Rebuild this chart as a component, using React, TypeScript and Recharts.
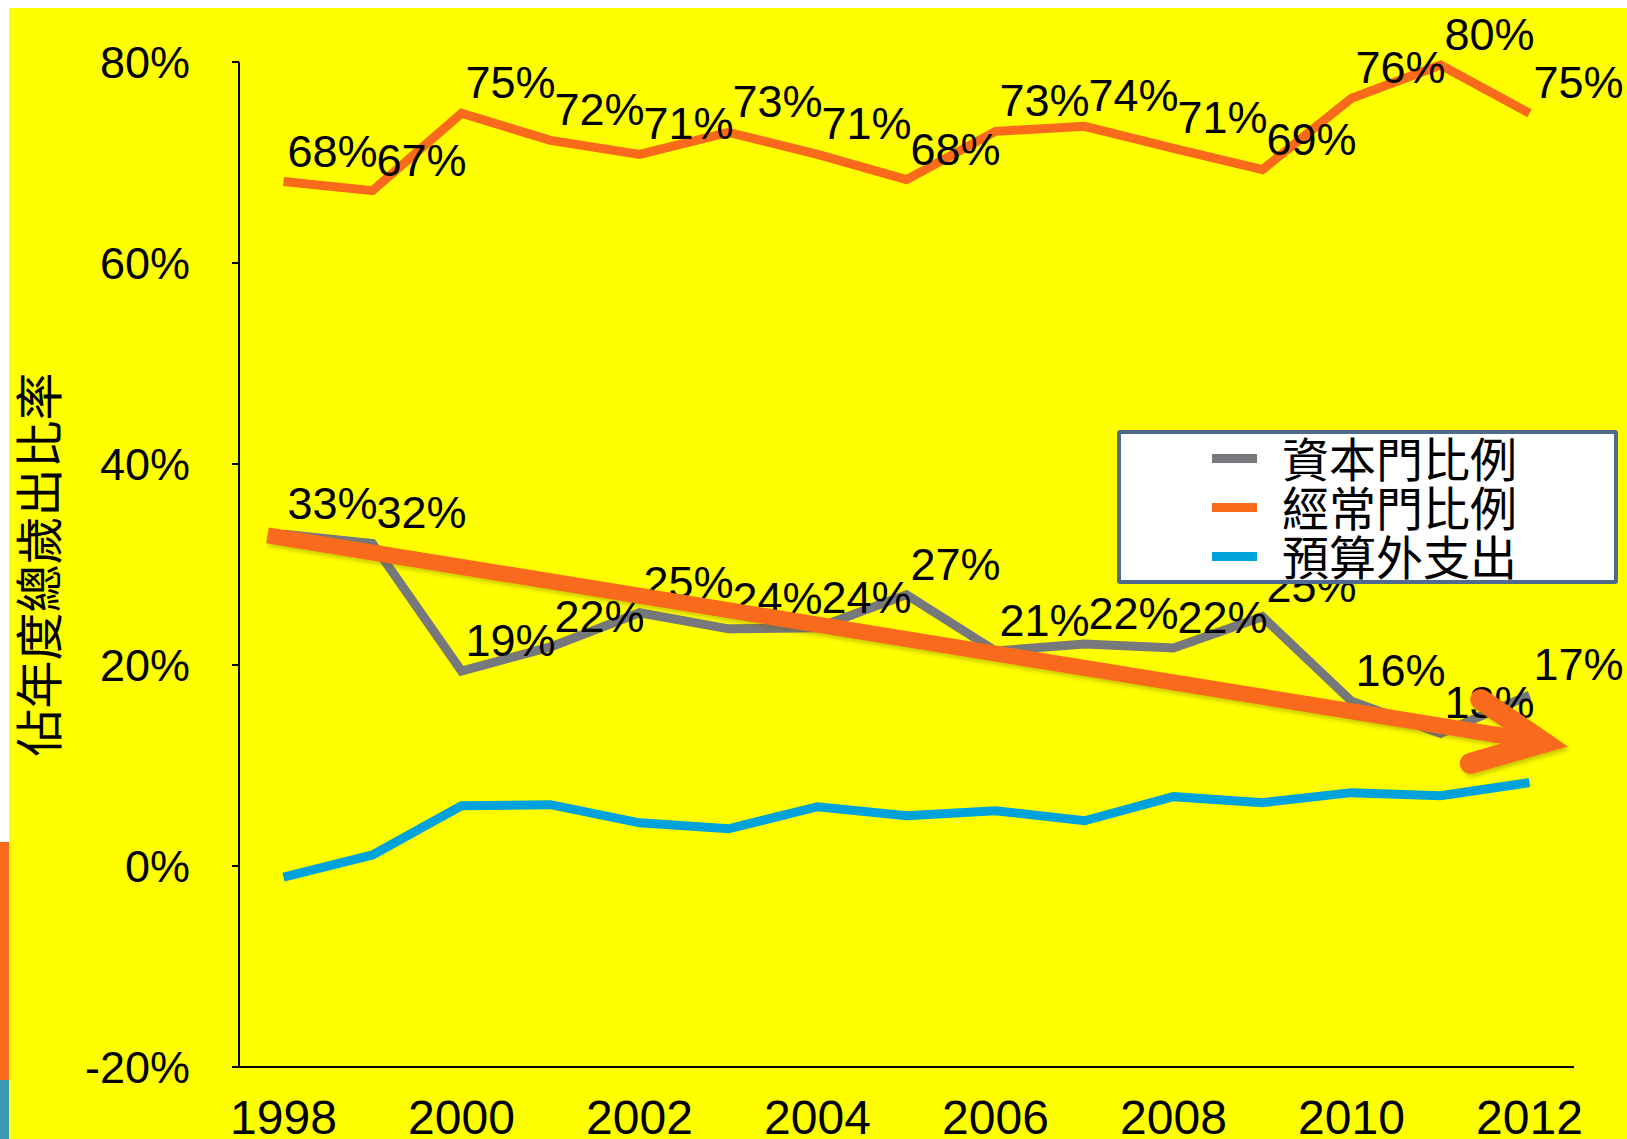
import { LineChart, Line, XAxis, YAxis, LabelList, Legend, ReferenceLine } from 'recharts'

const years = [1998, 1999, 2000, 2001, 2002, 2003, 2004, 2005, 2006, 2007, 2008, 2009, 2010, 2011, 2012]
const capitalShare = [33.0, 32.1, 19.4, 21.8, 25.2, 23.6, 23.7, 27.0, 21.4, 22.1, 21.7, 24.8, 16.4, 13.2, 17.0]
const currentShare = [68.1, 67.2, 74.9, 72.2, 70.8, 73.0, 70.8, 68.3, 73.1, 73.6, 71.4, 69.3, 76.4, 79.7, 74.9]
const offBudget = [-1.1, 1.1, 6.0, 6.1, 4.3, 3.7, 5.9, 5.0, 5.5, 4.5, 6.9, 6.3, 7.3, 7.0, 8.3]

const xTicks = [1998, 2000, 2002, 2004, 2006, 2008, 2010, 2012]
const yTicks = [-20, 0, 20, 40, 60, 80]
const seriesNames = ['資本門比例', '經常門比例', '預算外支出']
const seriesColors = ['#77787b', '#f96a1b', '#00a2db']
const yTitle = '佔年度總歲出比率'

// hand-drawn trend arrow, in data units (year, %)
const trendFrom = { x: 1997.82, y: 32.9 }
const trendTo = { x: 2012.43, y: 11.9 }

const chartData = years.map((year, i) => ({
  year,
  capital: capitalShare[i],
  current: currentShare[i],
  offBudget: offBudget[i],
}))

const latin = '"Liberation Sans", Arial, sans-serif'
const cjk = '"Noto Sans CJK TC", "Noto Sans CJK SC", sans-serif'

function PctLabel(props: any) {
  const { x, y, value } = props
  if (x == null || y == null) return null
  return (
    <text x={x + 4} y={y - 15} fontSize={45} fontFamily={latin} fill="#000" textAnchor="start">
      {Math.round(value)}%
    </text>
  )
}

function TrendArrow(props: any) {
  const { x1, y1, x2, y2 } = props
  const ang = Math.atan2(y2 - y1, x2 - x1)
  const spread = 0.44
  const headW = 21
  const back = headW / 2 / Math.sin(spread)
  const vx = x2 - back * Math.cos(ang)
  const vy = y2 - back * Math.sin(ang)
  const armLen = 76
  const a1 = ang + Math.PI + spread
  const a2 = ang + Math.PI - spread
  const p1 = `${vx + armLen * Math.cos(a1)},${vy + armLen * Math.sin(a1)}`
  const p2 = `${vx + armLen * Math.cos(a2)},${vy + armLen * Math.sin(a2)}`
  return (
    <g filter="url(#arrowShadow)">
      <defs>
        <filter id="arrowShadow" x="-10%" y="-60%" width="120%" height="220%">
          <feDropShadow dx="2" dy="3" stdDeviation="2" floodColor="#6b6000" floodOpacity="0.35" />
        </filter>
      </defs>
      <line x1={x1} y1={y1} x2={vx} y2={vy} stroke={seriesColors[1]} strokeWidth={16} />
      <polyline
        points={`${p1} ${vx},${vy} ${p2}`}
        fill="none"
        stroke={seriesColors[1]}
        strokeWidth={headW}
        strokeLinecap="round"
        strokeLinejoin="miter"
        strokeMiterlimit={10}
      />
    </g>
  )
}

function YTitle(props: any) {
  const vb = props.viewBox || {}
  const cy = vb.height ? vb.y + vb.height / 2 : 564
  const cx = 36
  return (
    <text
      x={cx}
      y={cy}
      transform={`rotate(-90, ${cx}, ${cy})`}
      textAnchor="middle"
      dominantBaseline="central"
      fontSize={48}
      fontFamily={cjk}
      fill="#000"
    >
      {yTitle}
    </text>
  )
}

function LegendBox() {
  return (
    <div
      style={{
        boxSizing: 'border-box',
        width: 501,
        height: 154,
        border: '4px solid #50698f',
        borderRadius: 3,
        background: '#fff',
      }}
    >
      {seriesNames.map((n, i) => (
        <div key={n} style={{ display: 'flex', alignItems: 'center', height: 49 }}>
          <span style={{ display: 'inline-block', marginLeft: 91, width: 45, height: 9, background: seriesColors[i] }} />
          <span style={{ marginLeft: 25, fontSize: 47, lineHeight: '49px', fontFamily: cjk, color: '#000', position: 'relative', top: -2 }}>{n}</span>
        </div>
      ))}
    </div>
  )
}

export default function App() {
  return (
    <div style={{ position: 'absolute', left: 0, top: 0, width: 1627, height: 1139, background: '#fff', overflow: 'hidden' }}>
      <div style={{ position: 'absolute', left: 9, top: 8, width: 1618, height: 1131, background: '#ffff00' }} />
      <div style={{ position: 'absolute', left: 0, top: 842, width: 9, height: 240, background: '#f96a1b' }} />
      <div style={{ position: 'absolute', left: 0, top: 1080, width: 9, height: 59, background: '#3b97b3' }} />
      <div style={{ position: 'absolute', left: 0, top: 0 }}>
        <LineChart width={1627} height={1139} data={chartData} margin={{ top: 62, right: 53, bottom: 0, left: 0 }}>
          <XAxis
            dataKey="year"
            type="number"
            domain={[1997.5, 2012.5]}
            ticks={xTicks}
            tickLine={false}
            tickSize={0}
            tickMargin={33}
            height={72}
            axisLine={{ stroke: '#000', strokeWidth: 2 }}
            tick={{ fill: '#000', fontSize: 48, fontFamily: latin }}
            allowDataOverflow
          />
          <YAxis
            type="number"
            domain={[-20, 80]}
            ticks={yTicks}
            width={239}
            tickSize={7}
            tickMargin={42}
            tickFormatter={(v) => `${v}%`}
            axisLine={{ stroke: '#000', strokeWidth: 2 }}
            tickLine={{ stroke: '#000', strokeWidth: 2 }}
            tick={{ fill: '#000', fontSize: 45, fontFamily: latin }}
            label={<YTitle />}
          />
          <Line dataKey="offBudget" name={seriesNames[2]} stroke={seriesColors[2]} strokeWidth={9} dot={false} isAnimationActive={false} />
          <Line dataKey="capital" name={seriesNames[0]} stroke={seriesColors[0]} strokeWidth={9} dot={false} isAnimationActive={false}>
            <LabelList dataKey="capital" content={<PctLabel />} />
          </Line>
          <Line dataKey="current" name={seriesNames[1]} stroke={seriesColors[1]} strokeWidth={9} dot={false} isAnimationActive={false}>
            <LabelList dataKey="current" content={<PctLabel />} />
          </Line>
          <ReferenceLine
            segment={[trendFrom, trendTo]}
            zIndex={2500}
            shape={(p: any) => <TrendArrow {...p} />}
          />
          <Legend
            layout="vertical"
            align="center"
            verticalAlign="middle"
            content={<LegendBox />}
            wrapperStyle={{ left: 1117, top: 430, width: 501, height: 154 }}
          />
        </LineChart>
      </div>
    </div>
  )
}
